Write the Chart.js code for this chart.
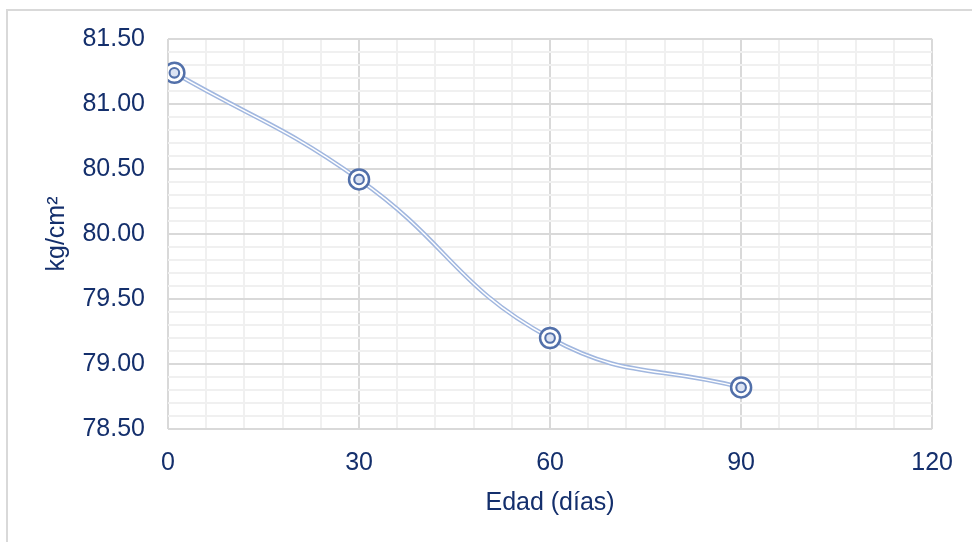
<!DOCTYPE html>
<html>
<head>
<meta charset="utf-8">
<script src="https://cdn.jsdelivr.net/npm/chart.js@4/dist/chart.umd.min.js"></script>
<style>
  html, body { margin: 0; padding: 0; background: #ffffff; overflow: hidden; }
  #wrap { position: relative; width: 972px; height: 542px; }
  #frame { position: absolute; left: 6px; top: 9px; width: 1100px; height: 700px;
           border: 2px solid #d9d9d9; box-sizing: border-box; }
  canvas { position: absolute; left: 0; top: 0; }
</style>
</head>
<body>
<div id="wrap">
  <div id="frame"></div>
  <canvas id="chart" width="972" height="542"></canvas>
</div>
<script>
// Compressive strength versus age
const ageDays = [1, 30, 60, 90];
const strength = [81.24, 80.42, 79.20, 78.82];
const xTickLabels = ['0', '30', '60', '90', '120'];
const yTickLabels = ['78.50', '79.00', '79.50', '80.00', '80.50', '81.00', '81.50'];
const xTitle = 'Edad (días)';
const yTitle = 'kg/cm²';

const textColor = '#142f6c';
const lineOuter = '#a1b7df';
const markerColor = '#5270aa';
const font = { family: '"Liberation Sans", Arial, sans-serif', size: 25 };

const points = ageDays.map((d, i) => ({ x: d, y: strength[i] }));

function isMultiple(v, step) {
  const r = v / step;
  return Math.abs(r - Math.round(r)) < 1e-6;
}

new Chart(document.getElementById('chart'), {
  type: 'line',
  data: {
    datasets: [
      { // outer stroke of the double line
        data: points, borderColor: lineOuter, borderWidth: 4.5,
        tension: 0.45, pointRadius: 0, fill: false, order: 4
      },
      { // white core of the double line, with ring markers
        data: points, borderColor: '#ffffff', borderWidth: 1.4,
        tension: 0.45, fill: false, order: 3,
        pointRadius: 10, pointBorderWidth: 2.5,
        pointBorderColor: markerColor, pointBackgroundColor: '#ffffff'
      },
      { // inner ring of the markers
        data: points, showLine: false, order: 1,
        pointRadius: 4.8, pointBorderWidth: 2.1,
        pointBorderColor: markerColor, pointBackgroundColor: 'rgba(215,224,242,0.9)'
      }
    ]
  },
  options: {
    responsive: false,
    animation: false,
    devicePixelRatio: 1,
    layout: { padding: { top: 39, right: 35, left: 0, bottom: 0 } },
    plugins: { legend: { display: false }, tooltip: { enabled: false } },
    scales: {
      x: {
        type: 'linear', min: 0, max: 120,
        afterFit: s => { s.height = 113; },
        border: { display: false },
        grid: {
          drawTicks: false, lineWidth: 2,
          color: c => isMultiple(c.tick.value, 30) ? '#d9d9d9' : '#f0f0f0'
        },
        ticks: {
          stepSize: 6, autoSkip: false, maxRotation: 0, padding: 19,
          color: textColor, font: font,
          callback: v => isMultiple(v, 30) ? xTickLabels[Math.round(v / 30)] : ''
        },
        title: { display: true, text: xTitle, color: textColor, font: font,
                 padding: { top: 0, bottom: 24 } }
      },
      y: {
        type: 'linear', min: 78.5, max: 81.5,
        afterFit: s => { s.width = 168; },
        border: { display: false },
        grid: {
          drawTicks: false, lineWidth: 2,
          color: c => isMultiple(c.tick.value - 78.5, 0.5) ? '#d9d9d9' : '#f0f0f0'
        },
        ticks: {
          stepSize: 0.1, autoSkip: false, padding: 23,
          color: textColor, font: font,
          callback: v => isMultiple(v - 78.5, 0.5) ? yTickLabels[Math.round((v - 78.5) / 0.5)] : ''
        },
        title: { display: true, text: yTitle, color: textColor, font: font,
                 padding: { top: 42, bottom: 0 } }
      }
    }
  }
});
</script>
</body>
</html>
